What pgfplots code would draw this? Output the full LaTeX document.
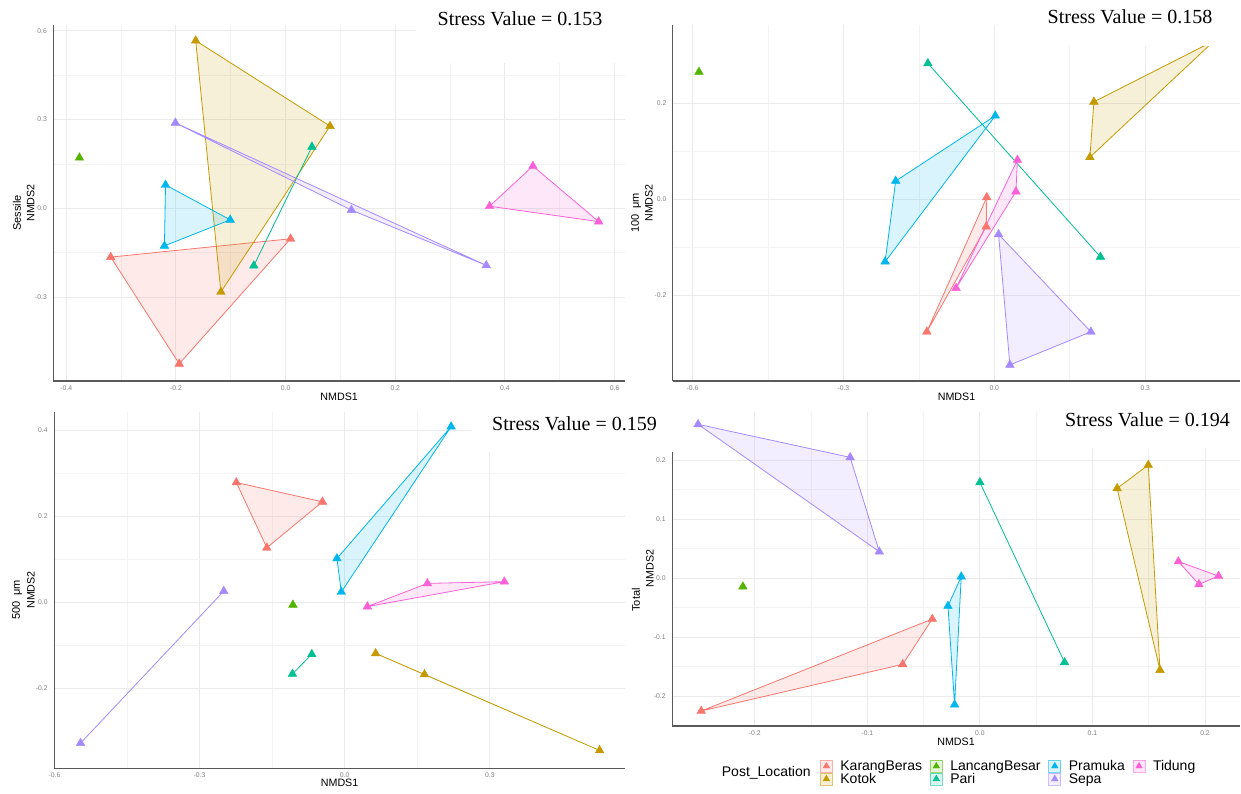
\documentclass[border=0pt]{standalone}
\usepackage{pgfplots}
\pgfplotsset{compat=1.18}
\usepackage{fontspec}
\setmainfont{Liberation Sans}
\newfontfamily\seriffont{Liberation Serif}
\definecolor{cKB}{HTML}{F8766D}
\definecolor{cKO}{HTML}{C49A00}
\definecolor{cLB}{HTML}{53B400}
\definecolor{cPA}{HTML}{00C094}
\definecolor{cPR}{HTML}{00B6EB}
\definecolor{cSE}{HTML}{A58AFF}
\definecolor{cTI}{HTML}{FB61D7}
\definecolor{gridmaj}{HTML}{EBEBEB}
\definecolor{gridmin}{HTML}{F3F3F3}
\definecolor{axisc}{HTML}{5A5A5A}
\definecolor{tickc}{HTML}{808080}
\pgfplotsset{
  panel/.style={
    scale only axis, anchor=south west,
    axis x line*=bottom, axis y line*=left,
    axis line style={-, draw=axisc, line width=1.1pt},
    major tick length=0pt, minor tick length=0pt,
    tick style={draw=none},
    grid=both, minor tick num=1,
    major grid style={draw=gridmaj, line width=0.9pt},
    minor grid style={draw=gridmin, line width=0.6pt},
    xticklabel style={font=\fontsize{6.8}{7}\selectfont, text=tickc, yshift=-1pt},
    yticklabel style={font=\fontsize{6.8}{7}\selectfont, text=tickc, xshift=-3pt},
    /pgf/number format/fixed, /pgf/number format/fixed zerofill,
    /pgf/number format/precision=1, /pgf/number format/assume math mode=true,
  },
  hull/.style={draw=#1, fill=#1, fill opacity=0.15, line width=0.8pt, forget plot},
  pts/.style={only marks, mark=triangle*, mark size=5pt, color=#1, forget plot},
  legkey/.style={draw=#1, fill=#1, mark=triangle*, mark size=3.8pt},
}
\begin{document}
\begin{tikzpicture}
\useasboundingbox (0pt,0pt) rectangle (1241pt,794pt);
% ---------------- Panel 1: Sessile
\begin{axis}[panel, at={(53.4pt,413pt)}, width=571.6pt, height=356pt,
  xmin=-0.4235, xmax=0.619, ymin=-0.584, ymax=0.620,
  xtick={-0.4,-0.2,0,0.2,0.4,0.6}, ytick={-0.3,0,0.3,0.6}]
\addplot[hull=cKB] coordinates {(-0.319,-0.165) (0.009,-0.103) (-0.194,-0.526)} --cycle;
\addplot[hull=cKO] coordinates {(-0.164,0.567) (0.081,0.278) (-0.118,-0.283)} --cycle;
\addplot[hull=cPA] coordinates {(0.048,0.208) (-0.058,-0.194)} --cycle;
\addplot[hull=cPR] coordinates {(-0.219,0.079) (-0.101,-0.039) (-0.221,-0.127)} --cycle;
\addplot[hull=cSE] coordinates {(-0.201,0.289) (0.366,-0.193) (0.120,-0.006)} --cycle;
\addplot[hull=cTI] coordinates {(0.451,0.143) (0.571,-0.045) (0.372,0.007)} --cycle;
\addplot[pts=cKB] coordinates {(-0.319,-0.165) (0.009,-0.103) (-0.194,-0.526)};
\addplot[pts=cKO] coordinates {(-0.164,0.567) (0.081,0.278) (-0.118,-0.283)};
\addplot[pts=cLB] coordinates {(-0.376,0.171)};
\addplot[pts=cPA] coordinates {(0.048,0.208) (-0.058,-0.194)};
\addplot[pts=cPR] coordinates {(-0.219,0.079) (-0.101,-0.039) (-0.221,-0.127)};
\addplot[pts=cSE] coordinates {(-0.201,0.289) (0.120,-0.006) (0.366,-0.193)};
\addplot[pts=cTI] coordinates {(0.451,0.143) (0.372,0.007) (0.571,-0.045)};
\end{axis}
% ---------------- Panel 2: 100 um
\begin{axis}[panel, at={(672.9pt,413pt)}, width=567.1pt, height=356pt,
  xmin=-0.6388, xmax=0.4884, ymin=-0.3785, ymax=0.363,
  xtick={-0.6,-0.3,0,0.3}, ytick={-0.2,0,0.2}]
\addplot[hull=cKB] coordinates {(-0.015,0.004) (-0.016,-0.057) (-0.134,-0.276)} --cycle;
\addplot[hull=cKO] coordinates {(0.198,0.203) (0.190,0.0875) (0.437,0.330)} --cycle;
\addplot[hull=cPA] coordinates {(-0.132,0.283) (0.211,-0.120)} --cycle;
\addplot[hull=cPR] coordinates {(0.002,0.174) (-0.196,0.038) (-0.217,-0.130)} --cycle;
\addplot[hull=cSE] coordinates {(0.0085,-0.073) (0.192,-0.276) (0.031,-0.345)} --cycle;
\addplot[hull=cTI] coordinates {(0.046,0.082) (0.043,0.016) (-0.076,-0.185)} --cycle;
\addplot[pts=cKB] coordinates {(-0.015,0.004) (-0.016,-0.057) (-0.134,-0.276)};
\addplot[pts=cKO] coordinates {(0.198,0.203) (0.190,0.0875) (0.437,0.330)};
\addplot[pts=cLB] coordinates {(-0.587,0.265)};
\addplot[pts=cPA] coordinates {(-0.132,0.283) (0.211,-0.120)};
\addplot[pts=cPR] coordinates {(0.002,0.174) (-0.196,0.038) (-0.217,-0.130)};
\addplot[pts=cSE] coordinates {(0.0085,-0.073) (0.192,-0.276) (0.031,-0.345)};
\addplot[pts=cTI] coordinates {(0.046,0.082) (0.043,0.016) (-0.076,-0.185)};
\end{axis}
% ---------------- Panel 3: 500 um
\begin{axis}[panel, at={(54.2pt,25.7pt)}, width=570.8pt, height=356.6pt,
  xmin=-0.6005, xmax=0.5795, ymin=-0.3866, ymax=0.4439,
  xtick={-0.6,-0.3,0,0.3}, ytick={-0.2,0,0.2,0.4}]
\addplot[hull=cKB] coordinates {(-0.224,0.279) (-0.046,0.234) (-0.161,0.127)} --cycle;
\addplot[hull=cKO] coordinates {(0.064,-0.119) (0.527,-0.345) (0.165,-0.168)} --cycle;
\addplot[hull=cPA] coordinates {(-0.068,-0.121) (-0.108,-0.167)} --cycle;
\addplot[hull=cPR] coordinates {(0.220,0.409) (-0.016,0.102) (-0.007,0.024)} --cycle;
\addplot[hull=cSE] coordinates {(-0.250,0.026) (-0.546,-0.328)} --cycle;
\addplot[hull=cTI] coordinates {(0.171,0.044) (0.330,0.048) (0.047,-0.010)} --cycle;
\addplot[pts=cKB] coordinates {(-0.224,0.279) (-0.046,0.234) (-0.161,0.127)};
\addplot[pts=cKO] coordinates {(0.064,-0.119) (0.165,-0.168) (0.527,-0.345)};
\addplot[pts=cLB] coordinates {(-0.107,-0.006)};
\addplot[pts=cPA] coordinates {(-0.068,-0.121) (-0.108,-0.167)};
\addplot[pts=cPR] coordinates {(0.220,0.409) (-0.016,0.102) (-0.007,0.024)};
\addplot[pts=cSE] coordinates {(-0.250,0.026) (-0.546,-0.328)};
\addplot[pts=cTI] coordinates {(0.171,0.044) (0.330,0.048) (0.047,-0.010)};
\end{axis}
% ---------------- Panel 4: Total
\begin{axis}[panel, at={(672.1pt,68pt)}, width=567.9pt, height=314.3pt,
  xmin=-0.2735, xmax=0.2311, ymin=-0.2508, ymax=0.2819,
  xtick={-0.2,-0.1,0,0.1,0.2}, ytick={-0.2,-0.1,0,0.1,0.2},
  legend columns=4, legend cell align=left,
  legend image code/.code={
    \draw[#1, fill opacity=0.15, draw opacity=0.55, line width=0.8pt] (0pt,-6pt) rectangle (12pt,6pt);
    \draw[#1, only marks] plot coordinates {(6pt,0.3pt)};
  },
  legend style={at={(0.2604,-0.1082)}, anchor=north west, draw=none, fill=none,
    inner sep=0pt, outer sep=0pt, row sep=0pt,
    font=\fontsize{14}{14}\selectfont,
    nodes={inner sep=0pt},
    /tikz/every odd column/.append style={column sep=7.6pt},
    /tikz/every even column/.append style={column sep=7.8pt}},
  ]
\addplot[hull=cKB] coordinates {(-0.0423,-0.0695) (-0.0686,-0.1463) (-0.2476,-0.2254)} --cycle;
\addplot[hull=cKO] coordinates {(0.1496,0.1915) (0.1219,0.152) (0.160,-0.156)} --cycle;
\addplot[hull=cPA] coordinates {(0.0,0.162) (0.0752,-0.143)} --cycle;
\addplot[hull=cPR] coordinates {(-0.0166,0.0023) (-0.0284,-0.0475) (-0.0225,-0.2147)} --cycle;
\addplot[hull=cSE] coordinates {(-0.2504,0.2605) (-0.1153,0.2045) (-0.0894,0.0446)} --cycle;
\addplot[hull=cTI] coordinates {(0.1763,0.028) (0.212,0.0034) (0.1946,-0.0107)} --cycle;
\addplot[pts=cKB] coordinates {(-0.0423,-0.0695) (-0.0686,-0.1463) (-0.2476,-0.2254)};
\addplot[pts=cKO] coordinates {(0.1496,0.1915) (0.1219,0.152) (0.160,-0.156)};
\addplot[pts=cLB] coordinates {(-0.2106,-0.0147)};
\addplot[pts=cPA] coordinates {(0.0,0.162) (0.0752,-0.143)};
\addplot[pts=cPR] coordinates {(-0.0166,0.0023) (-0.0284,-0.0475) (-0.0225,-0.2147)};
\addplot[pts=cSE] coordinates {(-0.2504,0.2605) (-0.1153,0.2045) (-0.0894,0.0446)};
\addplot[pts=cTI] coordinates {(0.1763,0.028) (0.212,0.0034) (0.1946,-0.0107)};
\addlegendimage{legkey=cKB}\addlegendentry{KarangBeras}
\addlegendimage{legkey=cLB}\addlegendentry{LancangBesar}
\addlegendimage{legkey=cPR}\addlegendentry{Pramuka}
\addlegendimage{legkey=cTI}\addlegendentry{Tidung}
\addlegendimage{legkey=cKO}\addlegendentry{Kotok}
\addlegendimage{legkey=cPA}\addlegendentry{Pari}
\addlegendimage{legkey=cSE}\addlegendentry{Sepa}
\end{axis}
% white patches behind the stress values
\fill[white] (416pt,731pt) rectangle (645pt,794pt);
\fill[white] (1020pt,748pt) rectangle (1241pt,794pt);
\fill[white] (472pt,342pt) rectangle (681pt,394pt);
\fill[white] (1043pt,346pt) rectangle (1241pt,394pt);
% stress values
\node[anchor=base, font=\seriffont\fontsize{20}{20}\selectfont, inner sep=0pt] at (520pt,768.5pt) {Stress Value = 0.153};
\node[anchor=base, font=\seriffont\fontsize{20}{20}\selectfont, inner sep=0pt] at (1130pt,770pt) {Stress Value = 0.158};
\node[anchor=base, font=\seriffont\fontsize{20}{20}\selectfont, inner sep=0pt] at (574.5pt,363.5pt) {Stress Value = 0.159};
\node[anchor=base, font=\seriffont\fontsize{20}{20}\selectfont, inner sep=0pt] at (1147.5pt,367.3pt) {Stress Value = 0.194};
% axis titles
\begin{scope}[every node/.style={font=\fontsize{10.7}{11}\selectfont, inner sep=0pt}]
\node at (339.2pt,397.3pt) {NMDS1};
\node at (956.5pt,397pt) {NMDS1};
\node at (339.6pt,10.7pt) {NMDS1};
\node at (956pt,52.3pt) {NMDS1};
\node[rotate=90] at (30.7pt,591pt) {NMDS2};
\node[rotate=90] at (649pt,591pt) {NMDS2};
\node[rotate=90] at (31pt,204pt) {NMDS2};
\node[rotate=90] at (650pt,225.5pt) {NMDS2};
\end{scope}
\begin{scope}[every node/.style={font=\fontsize{11}{12}\selectfont, inner sep=0pt}]
\node[rotate=90] at (17pt,581pt) {Sessile};
\node[rotate=90] at (636pt,581pt) {100\ \ μm};
\node[rotate=90] at (17pt,194pt) {500\ \ μm};
\node[rotate=90] at (636pt,194pt) {Total};
\end{scope}
\node[anchor=west, font=\fontsize{14}{14}\selectfont, inner sep=0pt] at (721.7pt,20.7pt) {Post\_Location};
\end{tikzpicture}
\end{document}
